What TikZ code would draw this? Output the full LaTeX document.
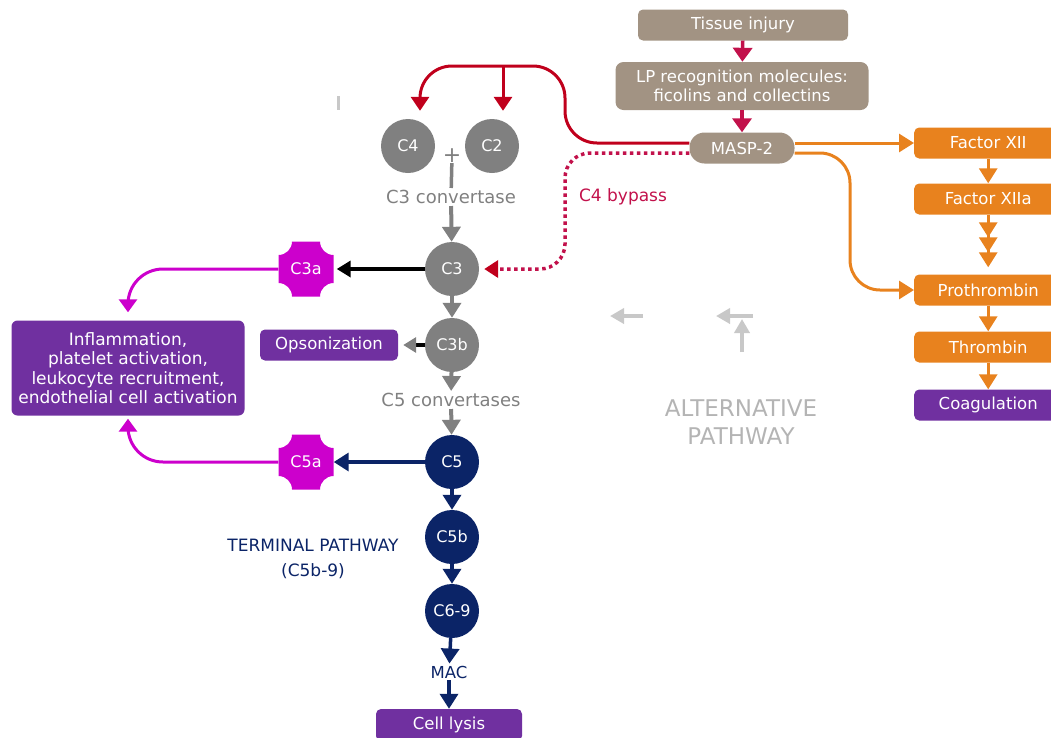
\documentclass[tikz,border=0pt]{standalone}
\usepackage{fontspec}
\setmainfont{DejaVu Sans}
\usetikzlibrary{arrows.meta}
\definecolor{lpgrey}{HTML}{A29383}
\definecolor{crim}{HTML}{C2114B}
\definecolor{lpred}{HTML}{C0001C}
\definecolor{orng}{HTML}{E8821E}
\definecolor{purp}{HTML}{7030A0}
\definecolor{magn}{HTML}{CC00CC}
\definecolor{navyc}{HTML}{0B2467}
\definecolor{grayc}{HTML}{808080}
\definecolor{lgray}{HTML}{C8C8C8}
\newcommand\fragfill[1]{\fill[magn, shift={#1}] (-14,-27.5) -- (14,-27.5)
  arc[start angle=180, end angle=90, radius=13.5] -- (27.5,14)
  arc[start angle=270, end angle=180, radius=13.5] -- (-14,27.5)
  arc[start angle=0, end angle=-90, radius=13.5] -- (-27.5,-14)
  arc[start angle=90, end angle=0, radius=13.5] -- cycle;}
\begin{document}
\begin{tikzpicture}[x=1pt,y=-1pt,
  every node/.style={font=\fontsize{16.5}{19.5}\selectfont},
  box/.style={rounded corners=5pt, text=white, minimum height=31pt, inner sep=0pt},
  circ/.style={circle, minimum size=54pt, inner sep=0pt, text=white, font=\fontsize{16}{19}\selectfont},
  frag/.style={minimum size=55pt, inner sep=0pt, text=white, font=\fontsize{16}{19}\selectfont},
  crimar/.style={draw=crim, line width=3.5pt, -{Triangle[width=19pt,length=14pt]}},
  redar/.style={draw=lpred, line width=3pt, -{Triangle[width=18pt,length=14pt]}},
  dotar/.style={draw=crim, line width=3.5pt, dash pattern=on 3.5pt off 3.5pt, -{Triangle[width=17pt,length=14pt,color=lpred]}},
  orar/.style={draw=orng, line width=3pt, -{Triangle[width=18pt,length=15pt]}},
  grar/.style={draw=grayc, line width=4pt, -{Triangle[width=18pt,length=15pt]}},
  navar/.style={draw=navyc, line width=3.5pt, -{Triangle[width=18pt,length=15pt]}},
  magar/.style={draw=magn, line width=3pt, -{Triangle[width=18pt,length=13pt]}},
  ltar/.style={draw=lgray, line width=3.5pt, -{Triangle[width=15pt,length=14pt]}}]
  \useasboundingbox (0,0) rectangle (1051,737);
  \node[box, fill=lpgrey, minimum width=210pt] (tissue) at (743,25) {Tissue injury};
  \node[box, fill=lpgrey, minimum width=253pt, minimum height=48pt, rounded corners=8pt, align=center] (lp) at (742,86) {LP recognition molecules:\\ficolins and collectins};
  \node[box, fill=lpgrey, minimum width=105pt, rounded corners=15pt] (masp) at (742,148) {MASP-2};
  \node[box, fill=orng, minimum width=148pt, anchor=west] (f12) at (914,143) {Factor XII};
  \node[box, fill=orng, minimum width=148pt, anchor=west] (f12a) at (914,199) {Factor XIIa};
  \node[box, fill=orng, minimum width=148pt, anchor=west] (pro) at (914,290) {Prothrombin};
  \node[box, fill=orng, minimum width=148pt, anchor=west] (thr) at (914,347) {Thrombin};
  \node[box, fill=purp, minimum width=148pt, anchor=west] (coag) at (914,405) {Coagulation};
  \node[circ, fill=grayc] (c4) at (408,146) {C4};
  \node[circ, fill=grayc] (c2) at (492,146) {C2};
  \node[circ, fill=grayc] (c3) at (452,269) {C3};
  \node[circ, fill=grayc] (c3b) at (452,345) {C3b};
  \node[circ, fill=navyc] (c5) at (452,462) {C5};
  \node[circ, fill=navyc] (c5b) at (452,537) {C5b};
  \node[circ, fill=navyc] (c69) at (452,611) {C6-9};
  \fragfill{(306,269)}
  \fragfill{(306,462)}
  \node[frag] (c3a) at (306,269) {C3a};
  \node[frag] (c5a) at (306,462) {C5a};
  \node[box, fill=purp, minimum width=233pt, minimum height=95pt, rounded corners=6pt, align=center, font=\fontsize{17}{19.5}\selectfont] (infl) at (128,368) {Inflammation,\\platelet activation,\\leukocyte recruitment,\\endothelial cell activation};
  \node[box, fill=purp, minimum width=138pt] (ops) at (329,345) {Opsonization};
  \node[box, fill=purp, minimum width=146pt, minimum height=32pt] (lysis) at (449,725) {Cell lysis};
  \node[text=grayc, inner sep=0pt, font=\fontsize{22}{22}\selectfont] (plus) at (452,156) {+};
  \node[text=grayc, inner sep=2pt, font=\fontsize{18}{20}\selectfont] (conv3) at (451,197) {C3 convertase};
  \node[text=grayc, inner sep=2pt, font=\fontsize{18}{20}\selectfont] (conv5) at (451,400) {C5 convertases};
  \node[text=navyc, inner sep=2pt] (mac) at (449,672) {MAC};
  \node[text=navyc, align=center, font=\fontsize{17}{25}\selectfont] (term) at (313,559) {TERMINAL PATHWAY\\(C5b-9)};
  \node[text=crim, font=\fontsize{17}{20}\selectfont] (bypass) at (623,197) {C4 bypass};
  \node[text=lgray!90!black, align=center, font=\fontsize{23}{28}\selectfont] (alt) at (741,422) {ALTERNATIVE\\PATHWAY};
  \coordinate (split) at (503,66);
  \coordinate (la) at (643,316);
  \coordinate (lae) at (610,316);
  \coordinate (lb) at (753,316);
  \coordinate (lbe) at (716,316);
  \coordinate (lc) at (742,352);
  \coordinate (lce) at (742,319);
  \draw[crimar] (tissue) -- (lp);
  \draw[crimar] (lp) -- (masp);
  \draw[redar, rounded corners=32pt] ([yshift=5pt]masp.west) -| (565,66) -| ([xshift=12pt,yshift=8pt]c4.north);
  \draw[redar] (split) -- ([xshift=11pt,yshift=8pt]c2.north);
  \draw[dotar, rounded corners=25pt] ([yshift=-5pt]masp.west) -| (565,269) -- ([xshift=5pt]c3.east);
  \draw[orar] ([yshift=5pt]masp.east) -- (f12.west);
  \draw[orar, rounded corners=30pt] ([yshift=-5pt]masp.east) -| (850,290) -- (pro.west);
  \draw[orar] (f12) -- (f12a);
  \draw[orar, -{Triangle[width=18pt,length=15pt]Triangle[width=18pt,length=15pt]Triangle[width=18pt,length=15pt]}, shorten >=7pt] (f12a) -- (pro);
  \draw[orar] (pro) -- (thr);
  \draw[orar] (thr) -- (coag);
  \draw[draw=grayc, line width=3.5pt] (plus) -- (conv3);
  \draw[grar] (conv3) -- (c3);
  \draw[grar] (c3) -- (c3b);
  \draw[grar] (c3b) -- (conv5);
  \draw[grar] (conv5) -- (c5);
  \draw[line width=3.5pt, -{Triangle[width=16pt,length=14pt]}, shorten >=3pt] (c3) -- (c3a);
  \draw[line width=3.5pt, -{Triangle[width=15pt,length=13pt,color=grayc]}, shorten >=5pt] (c3b) -- (ops);
  \draw[navar] (c5) -- (c5a);
  \draw[navar] (c5) -- (c5b);
  \draw[navar] (c5b) -- (c69);
  \draw[navar] (c69) -- (mac);
  \draw[navar] (mac) -- (lysis);
  \draw[magar, rounded corners=35pt] (c3a.west) -| ([yshift=8pt]infl.north);
  \draw[magar, rounded corners=35pt] (c5a.west) -| ([yshift=-3pt]infl.south);
  \draw[ltar] (la) -- (lae);
  \draw[ltar] (lb) -- (lbe);
  \draw[ltar] (lc) -- (lce);
  \draw[lgray, line width=3pt] (338,96) -- (338,110);
\end{tikzpicture}
\end{document}
